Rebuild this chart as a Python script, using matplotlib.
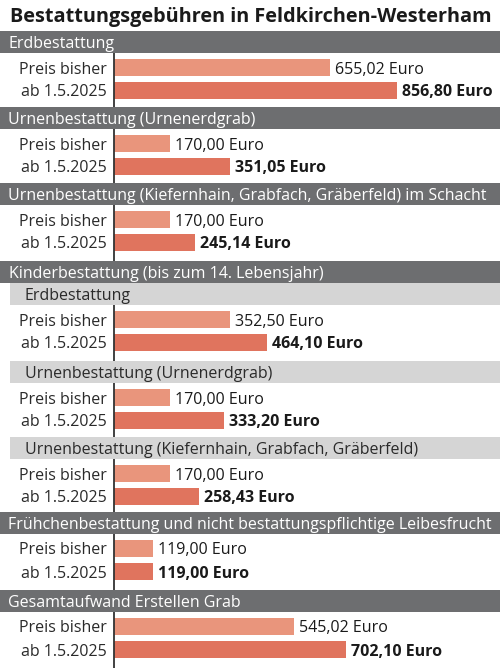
import matplotlib
matplotlib.use("Agg")
import matplotlib.pyplot as plt

title = "Bestattungsgebühren in Feldkirchen-Westerham"
group_titles = [
    "Erdbestattung",
    "Urnenbestattung (Urnenerdgrab)",
    "Urnenbestattung (Kiefernhain, Grabfach, Gräberfeld) im Schacht",
    "Erdbestattung",
    "Urnenbestattung (Urnenerdgrab)",
    "Urnenbestattung (Kiefernhain, Grabfach, Gräberfeld)",
    "Frühchenbestattung und nicht bestattungspflichtige Leibesfrucht",
    "Gesamtaufwand Erstellen Grab",
]
group_is_sub = [False, False, False, True, True, True, False, False]
parent_title = "Kinderbestattung (bis zum 14. Lebensjahr)"
row_labels = ["Preis bisher", "ab 1.5.2025"]
old_prices = [655.02, 170.00, 170.00, 352.50, 170.00, 170.00, 119.00, 545.02]
new_prices = [856.80, 351.05, 245.14, 464.10, 333.20, 258.43, 119.00, 702.10]

plt.rcParams['font.family'] = ['Open Sans', 'DejaVu Sans']

W, H = 500, 668
zero_px = 114.0
scale = 0.33  # px per euro
fig = plt.figure(figsize=(W / 100, H / 100), dpi=100)
ax = fig.add_axes([0, 0, 1, 1])
ax.set_xlim(-zero_px / scale, (W - zero_px) / scale)
ax.set_ylim(H, 0)
ax.axis("off")

dark = "#6d6e70"
light = "#d5d5d5"
c_old = "#e9957c"
c_new = "#e0745e"
txt = "#2a2a2a"

fig.text(10 / W, 1 - 17 / H, title, fontsize=14.3, fontweight="bold",
         color="#1a1a1a", ha="left", va="center")

header_tops = [31, 107, 183, 283, 361, 437, 512, 590]
hh = 22
# Kinder parent header
ax.axhspan(261, 283, color=dark, lw=0)
ax.annotate(parent_title, (0, 272), xycoords=("axes fraction", "data"),
            xytext=(9 * 0.72, 0), textcoords="offset points",
            color="white", fontsize=11.5, va="center_baseline", ha="left")

for i, (gt, sub) in enumerate(zip(group_titles, group_is_sub)):
    top = header_tops[i]
    if sub:
        ax.axhspan(top, top + hh, xmin=10 / W, xmax=1, color=light, lw=0)
        tx, tc = 25, txt
    else:
        ax.axhspan(top, top + hh, color=dark, lw=0)
        tx, tc = 8, "white"
    ax.annotate(gt, (0, top + hh / 2), xycoords=("axes fraction", "data"),
                xytext=(tx * 0.72, 0), textcoords="offset points",
                color=tc, fontsize=11.5, va="center_baseline", ha="left")
    # axis line
    bottom = header_tops[i + 1] if i + 1 < len(header_tops) else H
    if i == 2:
        bottom = 261
    ax.plot([0, 0], [top + hh, bottom], color="#333333", lw=1.3,
            solid_capstyle="butt")
    ys = [top + 36.5, top + 59.5]
    vals = [old_prices[i], new_prices[i]]
    cols = [c_old, c_new]
    for j in range(2):
        ax.barh(ys[j], vals[j], height=17, left=0, color=cols[j], lw=0)
        ax.annotate(row_labels[j], (0, ys[j]), xytext=(-7 * 0.72, 0),
                    textcoords="offset points", ha="right",
                    va="center_baseline", fontsize=11.5, color=txt)
        lab = f"{vals[j]:.2f}".replace(".", ",") + " Euro"
        ax.annotate(lab, (vals[j], ys[j]), xytext=(5 * 0.72, 0),
                    textcoords="offset points", ha="left",
                    va="center_baseline", fontsize=11.5, color="#1a1a1a",
                    fontweight="bold" if j == 1 else "normal")

fig.savefig("out.png", dpi=100, facecolor="white")
